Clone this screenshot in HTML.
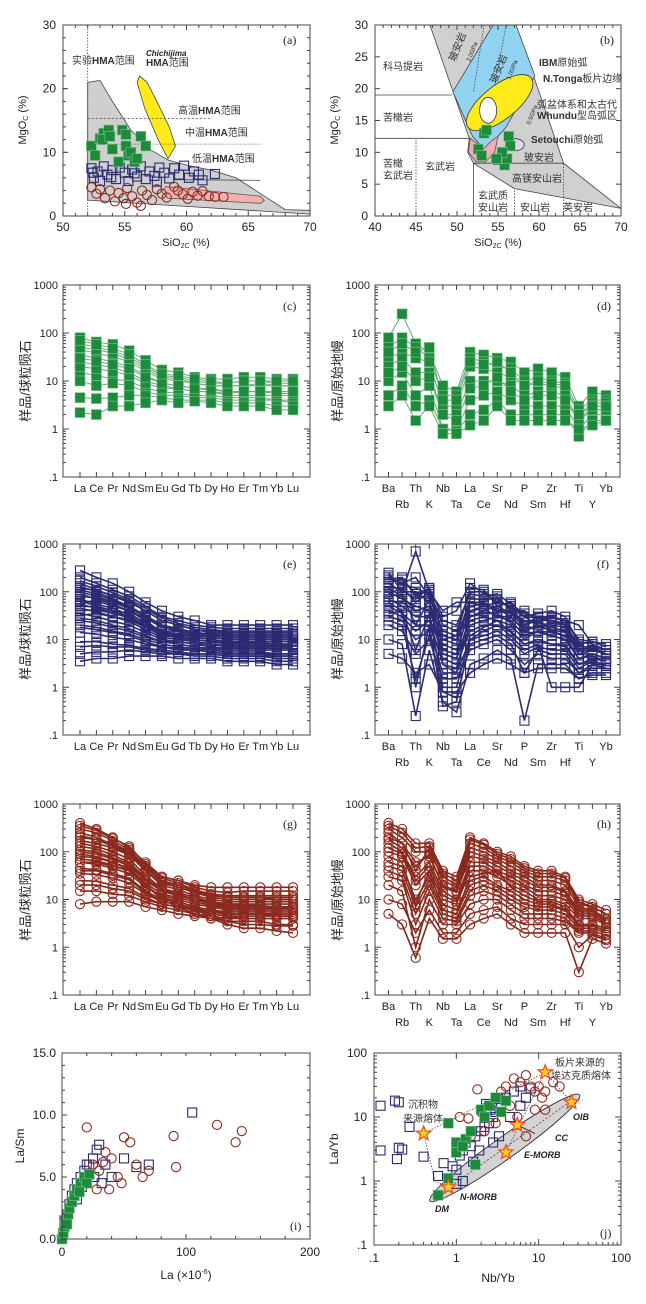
<!DOCTYPE html>
<html><head><meta charset="utf-8"><style>
html,body{margin:0;padding:0;background:#fff}
svg{display:block}
text{font-family:"Liberation Sans","Noto Sans CJK SC",sans-serif;fill:#222}
.tk{font-size:11px}
.cj{font-size:10px;fill:#333}
.lt{font-family:"Liberation Serif",serif;font-size:12px}
</style></head><body>
<svg id="fig" width="646" height="1304" viewBox="0 0 646 1304" xmlns="http://www.w3.org/2000/svg">
<rect x="0" y="0" width="646" height="1304" fill="#fff"/>
<g id="shapes"></g>
<g id="marks"></g>
<g id="axes"></g>
<g id="labels">
<text class="lt" x="283" y="44">(a)</text>
<text class="cj" x="72" y="64" font-size="8">实验<tspan font-weight="bold">HMA</tspan>范围</text>
<text x="146" y="56" font-size="8" font-weight="bold" font-style="italic">Chichijima</text>
<text class="cj" x="146" y="66" font-size="8"><tspan font-weight="bold">HMA</tspan>范围</text>
<text class="cj" x="178" y="114">高温<tspan font-weight="bold">HMA</tspan>范围</text>
<text class="cj" x="185" y="136">中温<tspan font-weight="bold">HMA</tspan>范围</text>
<text class="cj" x="192" y="162">低温<tspan font-weight="bold">HMA</tspan>范围</text>
<text class="tk" x="186" y="246" text-anchor="middle">SiO<tspan font-size="7" dy="2">2C</tspan><tspan dy="-2"> (%)</tspan></text>
<text class="tk" transform="translate(26,120) rotate(-90)" text-anchor="middle">MgO<tspan font-size="7" dy="2">C</tspan><tspan dy="-2"> (%)</tspan></text>
<text class="lt" x="600" y="44">(b)</text>
<text class="cj" x="383" y="70">科马提岩</text>
<text class="cj" x="383" y="121">苦橄岩</text>
<text class="cj" x="383" y="167">苦橄</text>
<text class="cj" x="383" y="179">玄武岩</text>
<text class="cj" x="425" y="170">玄武岩</text>
<text class="cj" transform="translate(455,62) rotate(-68)">玻安岩</text>
<text class="cj" transform="translate(496,84) rotate(-68)">玻安岩</text>
<text font-size="6" transform="translate(470,62) rotate(-68)">2.0GPa</text>
<text font-size="6" transform="translate(510,80) rotate(-68)">1.0GPa</text>
<text font-size="6" transform="translate(530,125) rotate(-68)">0.5GPa</text>
<text class="cj" x="539" y="66" font-size="8"><tspan font-weight="bold">IBM</tspan>原始弧</text>
<text class="cj" x="543" y="82" font-size="8"><tspan font-weight="bold">N.Tonga</tspan>板片边缘</text>
<text class="cj" x="537" y="108" font-size="8">弧盆体系和太古代</text>
<text class="cj" x="537" y="119" font-size="8"><tspan font-weight="bold">Whundu</tspan>型岛弧区</text>
<text class="cj" x="531" y="143" font-size="8"><tspan font-weight="bold">Setouchi</tspan>原始弧</text>
<text class="cj" x="524" y="161">玻安岩</text>
<text class="cj" x="512" y="182">高镁安山岩</text>
<text class="cj" x="478" y="199">玄武质</text>
<text class="cj" x="478" y="211">安山岩</text>
<text class="cj" x="520" y="211">安山岩</text>
<text class="cj" x="563" y="211" font-size="8">英安岩</text>
<text class="tk" x="498" y="246" text-anchor="middle">SiO<tspan font-size="7" dy="2">2C</tspan><tspan dy="-2"> (%)</tspan></text>
<text class="tk" transform="translate(338,120) rotate(-90)" text-anchor="middle">MgO<tspan font-size="7" dy="2">C</tspan><tspan dy="-2"> (%)</tspan></text>
<text class="lt" x="283" y="310">(c)</text>
<text class="lt" x="597" y="310">(d)</text>
<text class="lt" x="283" y="568">(e)</text>
<text class="lt" x="597" y="568">(f)</text>
<text class="lt" x="283" y="828">(g)</text>
<text class="lt" x="597" y="828">(h)</text>
<text font-size="13" transform="translate(30,381) rotate(-90)" text-anchor="middle">样品/球粒陨石</text>
<text font-size="13" transform="translate(342,381) rotate(-90)" text-anchor="middle">样品/原始地幔</text>
<text font-size="13" transform="translate(30,639) rotate(-90)" text-anchor="middle">样品/球粒陨石</text>
<text font-size="13" transform="translate(342,639) rotate(-90)" text-anchor="middle">样品/原始地幔</text>
<text font-size="13" transform="translate(30,900) rotate(-90)" text-anchor="middle">样品/球粒陨石</text>
<text font-size="13" transform="translate(342,900) rotate(-90)" text-anchor="middle">样品/原始地幔</text>
<text class="lt" x="290" y="1230">(i)</text>
<text class="lt" x="600" y="1237">(j)</text>
<text font-size="12" x="186" y="1279" text-anchor="middle">La (×10<tspan font-size="7" dy="-5">-6</tspan><tspan dy="5">)</tspan></text>
<text font-size="12" transform="translate(24,1146) rotate(-90)" text-anchor="middle">La/Sm</text>
<text font-size="12" x="498" y="1282" text-anchor="middle">Nb/Yb</text>
<text font-size="12" transform="translate(338,1149) rotate(-90)" text-anchor="middle">La/Yb</text>
<text class="cj" x="408" y="1108" font-size="11">沉积物</text>
<text class="cj" x="403" y="1122" font-size="11">来源熔体</text>
<text class="cj" x="555" y="1066" font-size="11">板片来源的</text>
<text class="cj" x="551" y="1079" font-size="11">埃达克质熔体</text>
<text x="573" y="1120" font-size="9" font-weight="bold" font-style="italic">OIB</text>
<text x="555" y="1141" font-size="9" font-weight="bold" font-style="italic">CC</text>
<text x="524" y="1158" font-size="9" font-weight="bold" font-style="italic">E-MORB</text>
<text x="460" y="1200" font-size="9" font-weight="bold" font-style="italic">N-MORB</text>
<text x="435" y="1212" font-size="9" font-weight="bold" font-style="italic">DM</text>
</g>
</svg>
<script>
const reeLabels=["La","Ce","Pr","Nd","Sm","Eu","Gd","Tb","Dy","Ho","Er","Tm","Yb","Lu"];
const pmLabels=["Ba","Rb","Th","K","Nb","Ta","La","Ce","Sr","Nd","P","Sm","Zr","Hf","Ti","Y","Yb"];
const logTicks=[1000,100,10,1,0.1];
const logTickLabels=["1000","100","10","1",".1"];
const greenREE=[[80,65,58,43,27,17,15,12,11,11,12,12,11,11],[60,50,42,32,20,13,12,10,9,9,10,10,9,9],[45,38,32,25,16,11,10,9,8,8,8,8,8,8],[35,30,25,20,13,9,8,7,7,6,6,6,6,6],[25,22,19,15,10,8,7,6,6,5,5,5,5,5],[15,13,11,10,7,6,5.5,5,5,4.5,4.5,4.5,4,4],[10,8,9,8,6,5,5,4.5,4.5,4,4,4,4,3.5],[4.5,4.3,4.5,5,5,4.5,4,4,4,3.5,3.5,3.5,3,3],[2.2,2,3,3,3.5,4,3.5,3.8,3.5,3,3,3,2.5,2.5],[20,18,16,13,9,7,7,6,6,5.5,6,6,5.5,5.5],[50,45,38,28,18,12,11,9,8,8,8,9,8,8],[30,26,22,18,12,9,8,7,6.5,6,6,6,6,6],[70,58,48,36,22,14,13,11,10,9,10,10,10,10]];
const greenPM=[[80,250,60,40,8,6,40,35,30,25,15,18,15,12,3,6,5],[50,80,50,30,5,5,30,25,20,18,10,12,10,9,2.5,4,4],[30,40,30,25,3,3,20,18,15,12,8,9,8,7,2,3.5,3.5],[20,30,15,15,2,2,10,10,10,8,5,6,6,5,1.5,3,3],[10,15,5,8,1,1,4,5,6,4,3,3,3,3,1,2,2],[5,8,3,4,1,0.9,2,2.5,4,2,2,2,2,2,0.7,1.5,1.5],[15,20,10,12,2,1.5,7,8,12,6,4,5,5,4,1.5,2.5,2.5],[3,5,1.5,3,0.8,0.8,1.2,1.5,3,1.5,1.5,1.5,1.5,1.5,1,1.2,1.5],[40,60,40,50,4,4,25,22,25,15,8,10,9,8,2,3,3]];
const blueREE=[[280,200,150,100,60,40,30,25,20,20,20,20,20,20],[200,150,110,80,50,30,25,20,18,17,17,17,17,17],[150,110,80,60,40,25,20,16,15,14,14,14,14,14],[110,90,65,50,32,20,17,14,13,12,12,12,12,12],[90,70,55,40,28,18,15,12,11,10,10,10,10,10],[70,55,45,33,22,15,13,11,10,9,9,9,9,9],[55,45,36,28,19,13,12,10,9,8,8,8,8,8],[45,38,30,24,16,11,10,9,8,7,7,7,7,7],[35,30,24,20,14,10,9,8,7,6.5,6.5,6.5,6.5,6.5],[28,25,20,17,12,9,8,7,6.5,6,6,6,6,6],[20,18,15,13,10,8,7,6.5,6,5.5,5.5,5.5,5,5],[14,13,11,10,8,7,6,6,5.5,5,5,5,4.5,4.5],[9,9,8,7.5,6.5,6,5.5,5,5,4.5,4.5,4.5,4,4],[5,5.5,5.5,6,5.5,5,5,4.5,4.5,4,4,4,3.5,3.5],[3.5,4,4,4.5,4.5,4.5,4,4,4,3.5,3.5,3.5,3,3],[60,65,50,40,25,14,12,10,9,9,9,9,9,9],[130,100,70,50,30,18,15,12,11,10,10,10,10,10],[40,42,35,30,20,15,15,13,12,11,11,11,11,11],[100,80,60,45,30,20,16,13,12,11,11,11,11,11],[25,22,18,15,11,9,9,8,8,7,7,7,7,7],[80,75,60,48,30,18,16,14,13,12,12,12,12,12],[50,48,40,35,22,14,13,12,11,10,10,10,10,10],[65,50,40,30,20,13,11,9,8,7.5,7.5,7.5,7.5,7.5],[32,35,30,26,18,12,11,10,9,8.5,8.5,8.5,8,8],[120,105,85,65,40,25,20,16,14,13,13,13,13,13],[18,16,14,12,9,7,6.5,6,5.5,5,5,5,5,5],[7,7.5,7,7,6,5.5,5,5,5,4.5,4.5,4.5,4.5,4.5],[170,130,95,70,45,28,22,18,16,15,15,15,15,15]];
const bluePM=[[250,100,700,100,20,15,100,100,60,50,20,30,30,25,10,9,8],[200,150,200,80,15,12,120,110,50,60,30,35,40,30,8,9,7],[150,100,100,60,10,8,60,60,40,40,20,25,25,20,6,7,6],[100,70,50,40,8,6,40,45,30,30,15,20,18,15,5,6,5],[70,50,30,30,5,4,25,30,25,20,10,15,12,10,4,5,4],[50,35,20,20,4,3,15,20,20,15,8,10,8,8,3,4,3.5],[30,25,10,15,2,2,10,12,15,10,5,7,6,6,2.5,3.5,3],[20,15,5,10,1.5,1.5,6,8,10,6,3,5,4,4,2,3,2.5],[10,8,0.25,6,0.5,0.3,3,4,6,4,0.2,3,3,3,1.5,2,2],[5,4,2,3,0.8,0.8,2,3,4,3,2,2.5,2.5,2.5,1.5,1.8,1.8],[120,80,40,50,5,4,30,40,50,35,25,22,20,18,5,6,5],[40,30,15,25,3,2.5,20,25,30,25,12,15,14,12,4,5,4],[180,200,80,120,30,40,150,90,80,40,40,25,30,25,20,8,6],[60,40,1,20,0.4,0.5,10,15,20,12,6,8,1,1,1,3,3],[90,120,60,100,40,60,60,50,60,50,30,20,15,12,8,6,5],[160,180,90,110,12,10,70,70,70,45,30,28,25,22,7,7,5],[80,90,20,70,3,2,40,50,40,35,18,18,16,14,5,5,4],[35,40,6,35,1,1,12,18,25,14,8,9,8,7,3,3.5,3],[220,140,120,90,25,20,90,80,90,55,35,30,28,25,9,8,6],[25,20,1.5,12,0.8,0.6,8,10,12,8,2,6,5,5,2,2.5,2.5],[130,110,70,120,6,5,50,55,45,30,16,18,22,20,6,6,5],[65,60,40,50,10,12,30,35,35,22,14,14,12,10,4,4.5,3.5]];
const redREE=[[400,300,200,120,60,30,25,18,15,14,15,15,15,15],[300,250,170,110,50,25,20,15,12,11,11,11,11,11],[220,180,130,90,40,20,16,12,10,9,9,9,9,9],[150,130,100,70,32,17,14,11,9,8,8,8,8,8],[110,100,75,55,26,15,12,10,8,7,7,7,7,7],[80,75,60,45,22,13,11,9,7.5,6.5,6.5,6.5,6.5,6.5],[60,55,45,35,18,12,10,8,7,6,6,6,6,6],[45,42,35,28,15,10,9,7,6,5.5,5.5,5.5,5.5,5.5],[35,33,28,22,13,9,8,6.5,5.5,5,5,5,5,5],[25,24,20,17,11,8,7,6,5,4.5,4.5,4.5,4.5,4.5],[15,15,13,12,9,7,6,5,4.5,4,4,4,4,4],[8,9,9,9,7,6,5,4.5,4,3.5,3.5,3.5,3,3],[60,60,50,40,20,10,7,5,4,3,2.5,2.5,2.2,2],[100,90,70,50,25,15,12,10,9,8,8,7,7,7],[200,180,150,100,50,30,25,20,18,18,18,18,18,18],[350,280,190,130,55,28,22,16,13,12,12,12,12,12],[130,115,85,60,28,16,13,10,8.5,7.5,7.5,7.5,7,7],[70,65,52,40,20,11,9,7,6,5,5,5,4.5,4.5],[40,40,32,26,14,9,8,6,5,4.5,4,4,4,4],[250,200,140,95,45,24,18,14,11,10,10,10,10,10],[20,20,17,15,10,8,7,6,5.5,5,5,5,5,5],[90,80,60,42,20,11,8,6,4.5,3.5,3,3,2.8,2.8],[170,150,120,85,40,22,18,14,12,11,11,11,10,10]];
const redPM=[[400,300,150,150,40,30,200,150,100,80,50,40,40,30,10,8,6],[300,200,100,100,30,20,150,120,80,60,40,30,30,25,8,7,5],[200,150,60,80,20,15,100,80,60,40,30,20,20,15,6,6,4],[150,100,30,60,15,10,60,60,40,30,20,15,15,12,5,5,3.5],[100,80,20,40,10,8,40,40,30,20,15,10,10,8,4,4,3],[60,50,10,30,8,6,25,30,20,15,10,8,8,6,3,3,2.5],[40,30,5,20,5,4,15,20,15,10,7,6,6,5,2.5,2.5,2],[20,15,1,10,3,3,8,10,10,6,4,4,4,3.5,2,2,1.5],[5,3,0.6,4,1.5,1.5,3,4,5,3,2,2,2,2,0.3,1.5,1.2],[250,150,40,120,25,18,120,100,70,50,35,25,25,20,7,6,4],[80,60,8,40,6,5,30,35,40,18,12,9,9,7,3,3,2.5],[350,250,120,130,35,25,180,140,90,70,45,35,35,28,9,7,5],[120,90,25,50,12,9,50,50,35,25,18,12,12,10,4.5,4.5,3.2],[30,25,3,15,4,3.5,12,15,12,8,5,5,5,4,2.2,2.2,1.8],[180,120,50,90,18,14,80,70,50,35,25,18,18,14,5.5,5.5,3.8],[50,40,7,25,6,5,20,25,18,12,8,7,7,6,2.8,2.8,2.2],[10,8,2,6,2,2,5,6,7,4,3,3,3,3,1,1.8,1.4]];
const aGreen=[[52.3,11],[52.6,9.5],[53,12.2],[53.3,13],[53.7,13.5],[53.2,12],[54,10.5],[54.5,8.5],[54.8,13.5],[55.1,12.8],[55.1,11],[55.3,9.5],[55.5,10],[55.8,8.5],[56.3,12.5],[56.7,11],[56,9],[53.8,12.5]];
const aBlue=[[52.3,7.5],[52.5,6],[52.8,7],[53,5.5],[53.3,7.8],[53.6,6.5],[54,7.2],[54.3,5.8],[54.6,7.6],[55,6.8],[55.3,5.5],[55.6,7.3],[56,6.2],[56.3,7.8],[56.7,5.8],[57,7],[57.4,6.3],[57.8,7.6],[58.2,6.8],[58.6,5.9],[59,7.5],[59.4,6.5],[59.8,7.9],[60.2,6],[60.6,7],[61,6.5],[61.3,5.6],[62.3,6.6],[52.4,6.8],[53.9,6.1],[55.8,6.7],[57.6,5.4]];
const aRed=[[52.3,4.5],[52.7,3.5],[53,4.2],[53.4,2.8],[53.8,4],[54.2,2.3],[54.5,3.6],[54.9,2.8],[55.2,4.4],[55.6,3.1],[56,2.1],[56.4,4],[56.8,3.3],[57.2,2.5],[57.6,4.2],[58,3.5],[58.4,2.9],[59,4.6],[59.3,4],[59.7,3.4],[60.1,2.7],[60.5,3.8],[60.9,3.2],[61.3,3.9],[61.8,3.1],[62.3,3],[63,3],[56.3,1.6],[55.1,1.9]];
const bGreen=[[53.3,13],[53.6,13.5],[52.6,10.5],[53,9.5],[55,8.8],[55.5,9.5],[55.8,8],[56.1,9],[56.3,12.5],[56.5,11],[55.5,10],[54.8,9]];
const iGreen=[[0,0],[1,0.5],[2,1],[3,1.5],[5,2],[6,2.5],[8,3],[10,3.5],[12,4],[15,4.5],[18,5],[22,5.2],[20,4.5],[14,3.8],[4,1.2]];
const iBlue=[[2,1.5],[4,2],[6,2.8],[8,3.5],[10,4],[12,4.5],[15,5],[18,5.5],[20,6],[25,6.5],[28,7.2],[30,7.6],[22,6],[35,6],[40,5],[50,6.5],[60,5.8],[70,6],[105,10.2],[16,4.2],[26,5],[32,4.5],[12,3.2]];
const iRed=[[20,9],[25,6],[30,5.5],[35,7],[40,6.5],[45,5],[50,8.2],[55,7.8],[60,6],[65,5],[70,5.5],[90,8.3],[92,5.8],[125,9.2],[140,7.8],[145,8.7],[28,4],[38,4],[18,4.5],[33,6.2],[48,4.5]];
const jGreen=[[0.6,0.6],[0.8,1.1],[1,2.8],[1,4],[1.3,4.5],[1.5,6],[1.7,1.8],[0.8,8],[2,13],[2.5,15],[3,20],[3.5,12],[2.2,10],[1.2,3.5],[4,18]];
const jBlue=[[0.12,15],[0.12,3],[0.18,18],[0.2,17],[0.19,2.2],[0.2,3.3],[0.22,3.1],[0.27,7],[0.4,2.4],[0.6,1.2],[0.7,1.9],[0.9,1.7],[1,1.5],[1.1,2.5],[1.2,3],[1.3,4],[1.5,3.5],[1.7,5],[2,6],[2.2,7],[2.5,8],[2.8,10],[3,12],[3.5,15],[4,20],[5,25],[6,30],[7,20],[8,28],[3.3,5],[2.8,4],[1.9,3],[1.6,2],[1.2,1],[4.5,10],[6,15],[1,0.9],[2.3,16],[3.2,19],[2.6,13]];
const jRed=[[1.8,27],[1.1,10],[1.4,9.5],[2,12],[2.5,15],[3,20],[3.5,25],[4,30],[5,40],[6,35],[7,45],[8,30],[9,25],[10,30],[11,20],[12,25],[15,35],[18,30],[9,13],[12,13],[7,5],[5.5,10],[4.5,15],[3,8],[2.2,6],[1.5,5]];
const jStars=[[0.4,5.5],[0.8,0.8],[4,2.8],[12,50],[25,17],[5.5,7.5]];

const NS="http://www.w3.org/2000/svg";
const G={s:document.getElementById('shapes'),m:document.getElementById('marks'),a:document.getElementById('axes')};
function mk(tag,at,parent){const e=document.createElementNS(NS,tag);for(const k in at)e.setAttribute(k,at[k]);parent.appendChild(e);return e;}
function lin(d0,d1,p0,p1){return v=>p0+(v-d0)/(d1-d0)*(p1-p0);}
function lg(d0,d1,p0,p1){return v=>p0+(Math.log10(v)-Math.log10(d0))/(Math.log10(d1)-Math.log10(d0))*(p1-p0);}
function frame(x0,y0,x1,y1,nm){const r=mk('rect',{x:x0,y:y0,width:x1-x0,height:y1-y0,fill:'none',stroke:'#444','stroke-width':1},G.a);

}
function tick(x1,y1,x2,y2){const l=mk('line',{x1,y1,x2,y2,stroke:'#444','stroke-width':1},G.a);

}
function label(x,y,t,anchor,size){const e=mk('text',{x,y,'text-anchor':anchor||'middle','font-size':size||11},G.a);e.textContent=t;

}
function poly(pts,fx,fy,fill,stroke,dash,nm){const d=pts.map(p=>fx(p[0]).toFixed(1)+','+fy(p[1]).toFixed(1)).join(' ');
const e=mk('polygon',{points:d,fill:fill,stroke:stroke||'#333','stroke-width':0.8},G.s);if(dash)e.setAttribute('stroke-dasharray',dash);

}
function pline(pts,fx,fy,stroke,dash,nm,w){const d=pts.map(p=>fx(p[0]).toFixed(1)+','+fy(p[1]).toFixed(1)).join(' ');
const e=mk('polyline',{points:d,fill:'none',stroke:stroke,'stroke-width':w||0.8},G.s);if(dash)e.setAttribute('stroke-dasharray',dash);

}
function marker(type,x,y,nm){let e;
if(type==='g'){e=mk('rect',{x:x-5,y:y-5,width:10,height:10,fill:'#1e8a3c',stroke:'#7fc48f','stroke-width':0.6},G.m);}
else if(type==='b'){e=mk('rect',{x:x-4.5,y:y-4.5,width:9,height:9,fill:'none',stroke:'#2a2a72','stroke-width':1.1},G.m);}
else if(type==='r'){e=mk('circle',{cx:x,cy:y,r:4.6,fill:'none',stroke:'#8e2b1e','stroke-width':1.1},G.m);}

}
function scatter(pts,type,fx,fy,nm){pts.forEach(p=>marker(type,fx(p[0]),fy(p[1]),nm));}

(function(){const fx=lin(50,70,63,310),fy=lin(0,30,216,25);
poly([[52,21],[53,21.3],[54,18],[55.5,13.5],[57,10.5],[58.5,8.8],[60,8],[62,7.2],[64,6],[66,3.5],[68,1],[70,0.9],[70,0.3],[60,1.5],[52,2.5]],fx,fy,'#cfcfcf','#444',null,'experimental-hma-field');
poly([[58.3,4.6],[61,4.1],[66,3.1],[66.3,2.4],[66,2],[58.5,2.8],[58,3.8]],fx,fy,'#f4b0b0','#555',null,'pink-field');
poly([[56.2,22],[56.8,21],[57.6,18],[58.6,14],[59.1,11],[58.5,9],[57.7,12],[56.6,17],[56,21]],fx,fy,'#ffeb1a','#444',null,'chichijima-field');
pline([[52,15.3],[62,15.3]],fx,fy,'#444','2,2','high-t-boundary');
pline([[52,11.3],[66,11.3]],fx,fy,'#444','1,1.5','mid-t-boundary');
pline([[59,5.7],[66,5.6]],fx,fy,'#444',null,'low-t-boundary');
pline([[52,0],[52,30]],fx,fy,'#444','1.5,1.5','sio2-52-line');
scatter(aBlue,'b',fx,fy,'a-blue-point');scatter(aRed,'r',fx,fy,'a-red-point');scatter(aGreen,'g',fx,fy,'a-green-point');
frame(63,25,310,216,'panel-a-frame');
[50,55,60,65,70].forEach(v=>{label(fx(v),231,String(v),'middle',12);});
[0,10,20,30].forEach(v=>{label(56,fy(v)+4,String(v),'end',12);tick(63,fy(v),68,fy(v));tick(305,fy(v),310,fy(v));});
for(let v=50;v<=70;v++){const L=v%5===0?5:3;tick(fx(v),216,fx(v),216-L);tick(fx(v),25,fx(v),25+L);}
for(let v=0;v<=30;v+=2){tick(63,fy(v),66,fy(v));tick(307,fy(v),310,fy(v));}
})();

(function(){const fx=lin(40,70,375,621),fy=lin(0,30,216,25);
poly([[46.7,30],[57.2,30],[63,8.3],[70,1.2],[57,4.3],[52,8.3],[51.3,10],[51.5,12.2]],fx,fy,'#d0d0d0','#444',null,'boninite-field');
poly([[49.5,19.5],[54.4,30],[57.2,30],[59.5,22],[56,14],[54.3,11.5],[53.3,10.5],[51.9,12.5]],fx,fy,'#93d3f2','#444',null,'blue-boninite-field');
poly([[51.6,12.2],[53.3,10.6],[54.2,11.8],[55,12.5],[54.6,10],[53.5,8.5],[52.3,8.5],[51.4,10]],fx,fy,'#f1a9b3','#555',null,'pink-field-b');
pline([[40,19],[49.4,19]],fx,fy,'#444',null,'picrite-upper-line');
pline([[40,12.2],[51.6,12.2]],fx,fy,'#444',null,'picrite-lower-line');
pline([[45,0],[45,12.2]],fx,fy,'#444','1.5,1.5','sio2-45-line');
pline([[52,0],[52,8.3]],fx,fy,'#444',null,'sio2-52-line');
pline([[57,0],[57,4.3]],fx,fy,'#444','1.5,1.5','sio2-57-line');
pline([[63,0],[63,8.3]],fx,fy,'#444','1.5,1.5','sio2-63-line');
pline([[52,8.3],[63,8.3]],fx,fy,'#444',null,'hma-upper-line');
pline([[53.3,30],[52,19.5]],fx,fy,'#444','1.5,1.5','2gpa-line');
pline([[56,30],[54.5,20]],fx,fy,'#444','1.5,1.5','1gpa-line');
const el=mk('ellipse',{cx:fx(55.2),cy:fy(17.8),rx:40,ry:17,fill:'#ffeb1a',stroke:'#333','stroke-width':0.8,transform:`rotate(-38 ${fx(55.2)} ${fy(17.8)})`},G.s);


const w=mk('ellipse',{cx:fx(53.8),cy:fy(16.6),rx:8.5,ry:13,fill:'#fff',stroke:'#333','stroke-width':0.8},G.s);


const s=mk('ellipse',{cx:fx(57.1),cy:fy(11.2),rx:9,ry:6,fill:'#d8d8f0',stroke:'#333','stroke-width':0.8},G.s);


scatter(bGreen,'g',fx,fy,'b-green-point');
frame(375,25,621,216,'panel-b-frame');
[40,45,50,55,60,65,70].forEach(v=>label(fx(v),231,String(v),'middle',12));
[0,5,10,15,20,25,30].forEach(v=>{label(368,fy(v)+4,String(v),'end',12);tick(375,fy(v),380,fy(v));tick(616,fy(v),621,fy(v));});
for(let v=40;v<=70;v++){const L=v%5===0?5:3;tick(fx(v),216,fx(v),216-L);tick(fx(v),25,fx(v),25+L);}
})();

function spider(x0,x1,y0,y1,labels,data,type,lineCol,nm,twoRow,lw){
 const n=labels.length,pad=twoRow?13.5:17;
 const fx=lin(0,n-1,x0+pad,x1-(twoRow?14:17)),fy=lg(1000,0.1,y0,y1);
 data.forEach(prof=>{const d=prof.map((v,i)=>fx(i).toFixed(1)+','+fy(v).toFixed(1)).join(' ');
  const e=mk('polyline',{points:d,fill:'none',stroke:lineCol,'stroke-width':lw},G.m);
  
  });
 data.forEach(prof=>prof.forEach((v,i)=>marker(type,fx(i),fy(v),nm+'-point')));
 frame(x0,y0,x1,y1,nm+'-frame');
 logTicks.forEach((v,k)=>{label(x0-5,fy(v)+4,logTickLabels[k],'end',11);tick(x0,fy(v),x0+6,fy(v));tick(x1-6,fy(v),x1,fy(v));
   if(v>0.1)for(let m=2;m<10;m++){const yy=fy(v/10*m);tick(x0,yy,x0+3,yy);tick(x1-3,yy,x1,yy);}});
 labels.forEach((t,i)=>{tick(fx(i),y1,fx(i),y1-5);tick(fx(i),y0,fx(i),y0+5);
   const yy=twoRow?(i%2===0?y1+15:y1+31):y1+15;label(fx(i),yy,t,'middle',11);});
}
spider(63,310,285,477,reeLabels,greenREE,'g','#6aa877','c',false,1);
spider(375,620,285,477,pmLabels,greenPM,'g','#6aa877','d',true,1);
spider(63,310,544,735,reeLabels,blueREE,'b','#2e2e74','e',false,1.6);
spider(375,620,544,735,pmLabels,bluePM,'b','#2e2e74','f',true,1.6);
spider(63,310,804,995,reeLabels,redREE,'r','#86281c','g',false,1.6);
spider(375,620,804,995,pmLabels,redPM,'r','#86281c','h',true,1.6);

(function(){const fx=lin(0,200,62,310),fy=lin(0,15,1239,1053);
scatter(iBlue,'b',fx,fy,'i-blue-point');scatter(iRed,'r',fx,fy,'i-red-point');scatter(iGreen,'g',fx,fy,'i-green-point');
frame(62,1053,310,1239,'panel-i-frame');
[0,100,200].forEach(v=>{label(fx(v),1256,String(v),'middle',12);});
for(let v=0;v<=200;v+=20){tick(fx(v),1239,fx(v),1239-(v%100===0?5:3));tick(fx(v),1053,fx(v),1053+3);}
[0,5,10,15].forEach(v=>{label(56,fy(v)+4,v.toFixed(1),'end',12);tick(62,fy(v),67,fy(v));tick(305,fy(v),310,fy(v));});
for(let v=0;v<=15;v+=1){tick(62,fy(v),65,fy(v));tick(307,fy(v),310,fy(v));}
})();

(function(){const fx=lg(0.1,100,374,621),fy=lg(0.1,100,1245,1053);
const cx=(fx(0.6)+fx(25))/2,cy=(fy(0.6)+fy(18))/2,ang=Math.atan2(fy(18)-fy(0.6),fx(25)-fx(0.6))*180/Math.PI;
const len=Math.hypot(fx(25)-fx(0.6),fy(18)-fy(0.6))/2+10;
const e=mk('ellipse',{cx,cy,rx:len,ry:11,fill:'#d3d3d3',stroke:'#333','stroke-width':0.9,transform:`rotate(${ang} ${cx} ${cy})`},G.s);


pline([[0.6,0.6],[25,18]],fx,fy,'#444','2,2','mantle-array-axis');
pline([[0.4,5.5],[0.55,1],[0.8,0.8]],fx,fy,'#444','1.5,1.5','sediment-mixing-line');
pline([[0.4,5.5],[3,20],[12,50]],fx,fy,'#444','1.5,1.5','sediment-slab-line');
pline([[12,50],[25,17]],fx,fy,'#444','1.5,1.5','slab-oib-line');
pline([[12,50],[4,2.8]],fx,fy,'#444','1.5,1.5','slab-emorb-line');
pline([[5.5,7.5],[9,5.5]],fx,fy,'#333',null,'cc-pointer',1);
scatter(jBlue,'b',fx,fy,'j-blue-point');scatter(jRed,'r',fx,fy,'j-red-point');scatter(jGreen,'g',fx,fy,'j-green-point');
jStars.forEach(p=>{const x=fx(p[0]),y=fy(p[1]);let pts=[];
 for(let k=0;k<10;k++){const r=k%2?3.2:7.5,a=-Math.PI/2+k*Math.PI/5;pts.push((x+r*Math.cos(a)).toFixed(1)+','+(y+r*Math.sin(a)).toFixed(1));}
 const st=mk('polygon',{points:pts.join(' '),fill:'#ffd21f',stroke:'#f0501e','stroke-width':1.3},G.m);
 
 });
frame(374,1053,621,1245,'panel-j-frame');
const dec=[0.1,1,10,100],decL=[".1","1","10","100"];
dec.forEach((v,k)=>{label(fx(v),1262,decL[k],'middle',12);label(367,fy(v)+4,decL[k],'end',12);
 tick(fx(v),1245,fx(v),1239);tick(fx(v),1053,fx(v),1059);tick(374,fy(v),380,fy(v));tick(615,fy(v),621,fy(v));
 if(v<100)for(let m=2;m<10;m++){tick(fx(v*m),1245,fx(v*m),1242);tick(374,fy(v*m),377,fy(v*m));tick(618,fy(v*m),621,fy(v*m));}});
})();
</script>
</body></html>
